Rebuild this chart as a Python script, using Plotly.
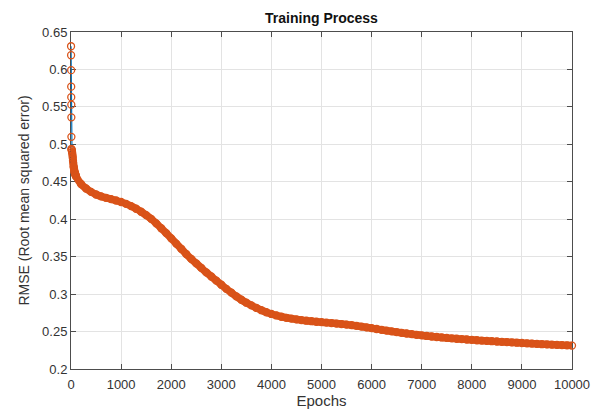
import plotly.graph_objects as go

# Early epochs (steep initial drop)
early_epochs = [1, 2, 3, 4, 5, 6, 7, 8, 9, 10, 15, 20, 25, 30, 35, 40, 45, 50,
                55, 60, 65, 70, 75, 80, 85, 90, 95]
early_rmse = [0.631, 0.619, 0.599, 0.577, 0.563, 0.553, 0.536, 0.510, 0.494,
              0.493, 0.492, 0.490, 0.488, 0.485, 0.482, 0.478, 0.475, 0.471,
              0.469, 0.467, 0.465, 0.463, 0.462, 0.461, 0.460, 0.459, 0.458]

# Epochs 100 .. 10000 in steps of 100
main_epochs = list(range(100, 10001, 100))
main_rmse = [
    0.4573, 0.4470, 0.4410, 0.4365, 0.4330, 0.4305, 0.4285, 0.4268, 0.4250, 0.4230,
    0.4205, 0.4175, 0.4140, 0.4100, 0.4055, 0.4005, 0.3945, 0.3880, 0.3815, 0.3745,
    0.3675, 0.3605, 0.3535, 0.3470, 0.3410, 0.3350, 0.3290, 0.3235, 0.3180, 0.3125,
    0.3070, 0.3020, 0.2970, 0.2925, 0.2885, 0.2850, 0.2815, 0.2785, 0.2758, 0.2735,
    0.2715, 0.2698, 0.2684, 0.2672, 0.2662, 0.2653, 0.2645, 0.2638, 0.2631, 0.2625,
    0.2619, 0.2613, 0.2607, 0.2600, 0.2593, 0.2585, 0.2576, 0.2566, 0.2555, 0.2545,
    0.2534, 0.2523, 0.2512, 0.2502, 0.2492, 0.2483, 0.2474, 0.2465, 0.2457, 0.2449,
    0.2441, 0.2434, 0.2427, 0.2421, 0.2415, 0.2409, 0.2404, 0.2399, 0.2394, 0.2389,
    0.2384, 0.2379, 0.2375, 0.2371, 0.2367, 0.2363, 0.2359, 0.2355, 0.2351, 0.2347,
    0.2343, 0.2339, 0.2335, 0.2331, 0.2328, 0.2325, 0.2322, 0.2319, 0.2316, 0.2313,
]

epochs = early_epochs + main_epochs
rmse = early_rmse + main_rmse

# the densely sampled part (from epoch 9 on) where markers merge into a band
dense_start = early_epochs.index(9)
dense_epochs = epochs[dense_start:]
dense_rmse = rmse[dense_start:]

x_ticks = list(range(0, 10001, 1000))
y_ticks = [0.2, 0.25, 0.3, 0.35, 0.4, 0.45, 0.5, 0.55, 0.6, 0.65]

BLUE = "#0072BD"
ORANGE = "#D95319"

fig = go.Figure()
# connecting line
fig.add_trace(go.Scatter(
    x=epochs, y=rmse, mode="lines",
    line=dict(color=BLUE, width=1.2),
    showlegend=False, hoverinfo="skip", cliponaxis=False,
))
# overlapping markers merge into a solid band where points are dense
fig.add_trace(go.Scatter(
    x=dense_epochs, y=dense_rmse, mode="lines",
    line=dict(color=ORANGE, width=7.5, shape="spline", smoothing=0.6),
    showlegend=False, hoverinfo="skip", cliponaxis=False,
))
# circle markers
fig.add_trace(go.Scatter(
    x=epochs, y=rmse, mode="markers",
    marker=dict(symbol="circle-open", size=7, color=ORANGE,
                line=dict(width=1.3, color=ORANGE)),
    showlegend=False, cliponaxis=False,
))

axis_common = dict(
    showline=True, linecolor="#4d4d4d", linewidth=1, mirror="ticks",
    ticks="inside", ticklen=5, tickcolor="#4d4d4d",
    showgrid=True, gridcolor="#e3e3e3", gridwidth=1, zeroline=False,
    automargin=False, layer="below traces",
    tickfont=dict(family="Liberation Sans, Arial", size=13, color="#333333"),
)

fig.update_layout(
    width=591, height=414,
    margin=dict(l=71, r=19, t=32, b=45),
    paper_bgcolor="white", plot_bgcolor="white",
    title=dict(text="<b>Training Process</b>", x=0.5, xanchor="center",
               xref="paper", y=0.957, yanchor="middle",
               font=dict(family="Liberation Sans, Arial", size=14, color="#111111")),
    xaxis=dict(range=[0, 10000], tickvals=x_ticks, tickformat="d",
               ticklabelstandoff=3,
               title=dict(text="Epochs", standoff=0,
                          font=dict(family="Liberation Sans, Arial", size=15, color="#333333")),
               **axis_common),
    yaxis=dict(range=[0.2, 0.65], tickvals=y_ticks,
               ticktext=[str(v) for v in y_ticks],
               title=dict(text="RMSE (Root mean squared error)", standoff=9,
                          font=dict(family="Liberation Sans, Arial", size=14, color="#333333")),
               **axis_common),
)

fig.write_html("out.html", config={"displayModeBar": False},
               post_script="document.body.style.margin='0';")
